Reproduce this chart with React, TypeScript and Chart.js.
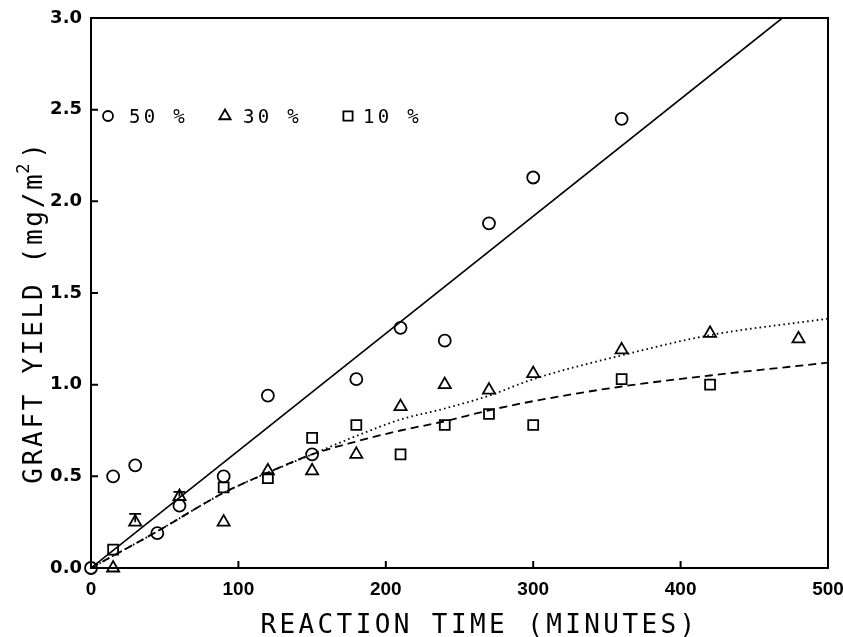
import React, { useEffect, useRef } from "react";
import { Chart, registerables } from "chart.js";

Chart.register(...registerables);

// ---- data ----
const xTickValues = [0, 100, 200, 300, 400, 500];
const yTickValues = [0, 0.5, 1.0, 1.5, 2.0, 2.5, 3.0];

// 50 % (circles)
const circleX = [0, 15, 30, 45, 60, 90, 120, 150, 180, 210, 240, 270, 300, 360];
const circleY = [0, 0.5, 0.56, 0.19, 0.34, 0.5, 0.94, 0.62, 1.03, 1.31, 1.24, 1.88, 2.13, 2.45];

// 30 % (triangles)
const triX = [15, 30, 60, 90, 120, 150, 180, 210, 240, 270, 300, 360, 420, 480];
const triY = [0, 0.25, 0.39, 0.25, 0.53, 0.53, 0.62, 0.88, 1.0, 0.97, 1.06, 1.19, 1.28, 1.25];
const triErrX = [30, 60];
const triErrTop = [0.295, 0.415];

// 10 % (squares)
const sqX = [15, 90, 120, 150, 180, 210, 240, 270, 300, 360, 420];
const sqY = [0.1, 0.44, 0.49, 0.71, 0.78, 0.62, 0.78, 0.84, 0.78, 1.03, 1.0];

// fitted curves
const fit50X = [0, 469];
const fit50Y = [0, 3.0];
const fit30X = [0, 45, 90, 120, 150, 180, 210, 240, 270, 300, 360, 420, 500];
const fit30Y = [0, 0.2, 0.41, 0.52, 0.62, 0.72, 0.81, 0.87, 0.94, 1.03, 1.16, 1.27, 1.36];
const fit10X = [0, 45, 90, 120, 150, 180, 210, 240, 270, 300, 360, 420, 500];
const fit10Y = [0, 0.2, 0.41, 0.52, 0.62, 0.69, 0.75, 0.8, 0.86, 0.91, 0.99, 1.05, 1.12];

// texts
const legendLabels = ["50 %", "30 %", "10 %"];
const legendShapes = ["circle", "triangle", "rect"];
const xTitle = "REACTION TIME (MINUTES)";
const yTitleMain = "GRAFT YIELD (mg/m";
const yTitleSup = "2";
const yTitleEnd = ")";

const pts = (xs: number[], ys: number[]) => xs.map((x, i) => ({ x, y: ys[i] }));

const MONO = "'DejaVu Sans Mono', monospace";

function drawShape(ctx: CanvasRenderingContext2D, shape: string, x: number, y: number, r: number) {
  ctx.beginPath();
  if (shape === "circle") {
    ctx.arc(x, y, r, 0, Math.PI * 2);
  } else if (shape === "triangle") {
    const w = r * Math.sqrt(3);
    ctx.moveTo(x, y - r);
    ctx.lineTo(x + w / 2, y + r / 2);
    ctx.lineTo(x - w / 2, y + r / 2);
    ctx.closePath();
  } else {
    const s = r * Math.SQRT1_2;
    ctx.rect(x - s, y - s, 2 * s, 2 * s);
  }
  ctx.stroke();
}

const decorPlugin = {
  id: "decor",
  afterDraw(chart: any) {
    const { ctx, chartArea: a, scales } = chart;
    const xs = scales.x;
    const ys = scales.y;
    ctx.save();
    ctx.strokeStyle = "#000";
    ctx.fillStyle = "#000";
    ctx.lineWidth = 2;
    ctx.strokeRect(a.left, a.top, a.right - a.left, a.bottom - a.top);

    // inward tick marks
    ctx.beginPath();
    for (const v of xTickValues) {
      const px = xs.getPixelForValue(v);
      ctx.moveTo(px, a.bottom);
      ctx.lineTo(px, a.bottom - 7);
    }
    for (const v of yTickValues) {
      const py = ys.getPixelForValue(v);
      ctx.moveTo(a.left, py);
      ctx.lineTo(a.left + 7, py);
    }
    ctx.stroke();

    // error caps on triangles
    ctx.lineWidth = 1.8;
    triErrX.forEach((ex, i) => {
      const px = xs.getPixelForValue(ex);
      const pTop = ys.getPixelForValue(triErrTop[i]);
      const idx = triX.indexOf(ex);
      const pBase = ys.getPixelForValue(triY[idx]);
      ctx.beginPath();
      ctx.moveTo(px - 6, pTop);
      ctx.lineTo(px + 6, pTop);
      ctx.moveTo(px, pTop);
      ctx.lineTo(px, pBase);
      ctx.stroke();
    });

    // legend
    const ly = a.top + 98;
    const legendMarkX = [17, 134, 257];
    const legendTextX = [38, 152, 272];
    const legendR = [5, 6.5, 6.5];
    ctx.lineWidth = 1.8;
    ctx.font = `19px ${MONO}`;
    (ctx as any).letterSpacing = "3.3px";
    ctx.textAlign = "left";
    ctx.textBaseline = "alphabetic";
    legendLabels.forEach((lab, i) => {
      drawShape(ctx, legendShapes[i], a.left + legendMarkX[i], ly, legendR[i]);
      ctx.fillText(lab, a.left + legendTextX[i], ly + 7);
    });

    // x title
    ctx.font = `26px ${MONO}`;
    (ctx as any).letterSpacing = "3.4px";
    ctx.textAlign = "center";
    ctx.fillText(xTitle, (a.left + a.right) / 2 + 20, a.bottom + 65);

    // y title (rotated)
    ctx.save();
    ctx.translate(42, (a.top + a.bottom) / 2 + 19);
    ctx.rotate(-Math.PI / 2);
    ctx.textAlign = "left";
    ctx.font = `26px ${MONO}`;
    (ctx as any).letterSpacing = "2.7px";
    const wMain = ctx.measureText(yTitleMain).width;
    ctx.font = `17px ${MONO}`;
    const wSup = ctx.measureText(yTitleSup).width;
    ctx.font = `26px ${MONO}`;
    const wEnd = ctx.measureText(yTitleEnd).width;
    const total = wMain + wSup + wEnd;
    let cx = -total / 2;
    ctx.fillText(yTitleMain, cx, 0);
    cx += wMain;
    ctx.font = `17px ${MONO}`;
    ctx.fillText(yTitleSup, cx - 2, -13);
    cx += wSup;
    ctx.font = `26px ${MONO}`;
    ctx.fillText(yTitleEnd, cx, 0);
    ctx.restore();

    (ctx as any).letterSpacing = "0px";
    ctx.restore();
  },
};

export default function App() {
  const ref = useRef<HTMLCanvasElement>(null);
  useEffect(() => {
    const canvas = ref.current;
    if (!canvas) return;
    const black = "#000";
    const chart = new Chart(canvas, {
      type: "scatter",
      data: {
        datasets: [
          {
            label: "fit 50 %",
            data: pts(fit50X, fit50Y),
            showLine: true,
            borderColor: black,
            borderWidth: 1.6,
            pointRadius: 0,
          },
          {
            label: "fit 30 %",
            data: pts(fit30X, fit30Y),
            showLine: true,
            borderColor: black,
            borderWidth: 1.8,
            borderDash: [1.6, 3.2],
            cubicInterpolationMode: "monotone",
            pointRadius: 0,
          },
          {
            label: "fit 10 %",
            data: pts(fit10X, fit10Y),
            showLine: true,
            borderColor: black,
            borderWidth: 1.8,
            borderDash: [8, 5],
            cubicInterpolationMode: "monotone",
            pointRadius: 0,
          },
          {
            label: "50 %",
            data: pts(circleX, circleY),
            pointStyle: "circle",
            pointRadius: 6,
            borderColor: black,
            borderWidth: 1.8,
            backgroundColor: "rgba(0,0,0,0)",
            clip: false,
          },
          {
            label: "30 %",
            data: pts(triX, triY),
            pointStyle: "triangle",
            pointRadius: 7,
            borderColor: black,
            borderWidth: 1.8,
            backgroundColor: "rgba(0,0,0,0)",
            clip: false,
          },
          {
            label: "10 %",
            data: pts(sqX, sqY),
            pointStyle: "rect",
            pointRadius: 7,
            borderColor: black,
            borderWidth: 1.8,
            backgroundColor: "rgba(0,0,0,0)",
            clip: false,
          },
        ] as any,
      },
      options: {
        responsive: false,
        animation: false,
        events: [],
        layout: { padding: { top: 18, right: 15, left: 0, bottom: 0 } },
        plugins: { legend: { display: false }, tooltip: { enabled: false } },
        scales: {
          x: {
            type: "linear",
            min: 0,
            max: 500,
            ticks: {
              stepSize: 100,
              color: black,
              padding: 10,
              font: { family: "'Liberation Sans', sans-serif", size: 19, weight: "bold" },
            },
            grid: { display: false, drawTicks: false },
            border: { display: false },
            afterFit: (s: any) => {
              s.height = 69;
              s.paddingLeft = 0;
              s.paddingRight = 0;
            },
          },
          y: {
            type: "linear",
            min: 0,
            max: 3,
            ticks: {
              stepSize: 0.5,
              color: black,
              padding: 9,
              font: { family: "'DejaVu Sans', sans-serif", size: 18, weight: "bold" },
              callback: (v: any) => Number(v).toFixed(1),
            },
            grid: { display: false, drawTicks: false },
            border: { display: false },
            afterFit: (s: any) => {
              s.width = 91;
              s.paddingTop = 0;
              s.paddingBottom = 0;
            },
          },
        },
      } as any,
      plugins: [decorPlugin],
    });
    return () => chart.destroy();
  }, []);
  return (
    <div style={{ position: "fixed", left: 0, top: 0, width: 843, height: 637, background: "#fff" }}>
      <canvas ref={ref} width={843} height={637} style={{ display: "block", width: 843, height: 637 }} />
    </div>
  );
}
